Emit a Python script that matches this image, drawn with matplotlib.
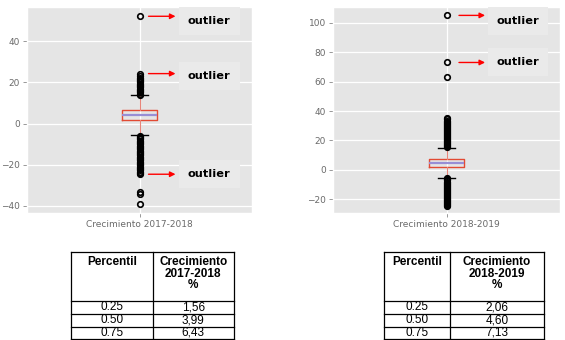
import matplotlib.pyplot as plt

# percentiles and growth values (%)
percentiles = ['0.25', '0.50', '0.75']
growth_1718 = [1.56, 3.99, 6.43]
growth_1819 = [2.06, 4.60, 7.13]

# whisker ends
whiskers_1718 = (-5.8, 13.7)
whiskers_1819 = (-5.2, 14.9)

# outliers
fliers_1718 = [13.9, 14.5, 15.1, 15.7, 16.3, 16.9, 17.5, 18.1, 18.7, 19.3, 19.9,
               20.5, 21.1, 21.7, 22.3, 22.9, 24.2, 52.0,
               -5.9, -6.5, -7.1, -7.7, -8.3, -8.9, -9.5, -10.1, -10.7, -11.3,
               -11.9, -12.5, -13.1, -13.7, -14.3, -14.9, -15.5, -16.1, -16.7,
               -17.3, -17.9, -18.5, -19.1, -19.7, -20.3, -20.9, -21.5, -22.1,
               -22.7, -23.3, -23.9, -24.4, -33.2, -34.3, -38.9]
fliers_1819 = [15.3, 16.0, 16.7, 17.4, 18.1, 18.8, 19.5, 20.2, 20.9, 21.6, 22.3,
               23.0, 23.7, 24.4, 25.1, 25.8, 26.5, 27.2, 27.9, 28.6, 29.3, 30.0,
               30.7, 31.4, 32.1, 32.8, 33.5, 34.6, 35.3, 63.0, 73.0, 105.0,
               -5.8, -6.5, -7.2, -7.9, -8.6, -9.3, -10.0, -10.7, -11.4, -12.1,
               -12.8, -13.5, -14.2, -14.9, -15.6, -16.3, -17.0, -17.7, -18.4,
               -19.1, -19.8, -20.5, -21.2, -21.9, -22.6, -23.3, -24.0, -24.6]

# outliers that get an arrow + label
marked_1718 = [52.0, 24.2, -24.6]
marked_1819 = [105.0, 73.0]

W, H = 565, 340
plt.style.use('ggplot')
plt.rcParams['font.family'] = ['DejaVu Sans']

fig = plt.figure(figsize=(W / 100, H / 100), dpi=100)


def px_rect(x0, y0, x1, y1):
    return [x0 / W, 1 - y1 / H, (x1 - x0) / W, (y1 - y0) / H]


def boxplot(rect, label, q, whis, fliers, ylim, yticks):
    ax = fig.add_axes(rect)
    stats = dict(q1=q[0], med=q[1], q3=q[2], whislo=whis[0], whishi=whis[1],
                 fliers=fliers, label=label)
    ax.bxp([stats], positions=[1], widths=0.155,
           boxprops=dict(color='#E24A33', lw=1.0),
           whiskerprops=dict(color='#E8857A', lw=0.8),
           capprops=dict(color='k', lw=1.0),
           medianprops=dict(color='#988ED5', lw=1.6),
           flierprops=dict(marker='o', mfc='none', mec='k', ms=4.0, mew=1.2))
    ax.set_xlim(0.5, 1.5)
    ax.set_ylim(*ylim)
    ax.set_yticks(yticks)
    ax.grid(True, color='white', lw=0.9)
    ax.tick_params(labelsize=6.5, colors='#888888', labelcolor='#6a6a6a',
                   length=3, width=0.6, pad=2)
    return ax


def mark(ax, y, x0, x1, xt, yt):
    ax.annotate('', xy=(x1, y), xytext=(x0, y),
                arrowprops=dict(arrowstyle='-|>', color='red', lw=1.0,
                                mutation_scale=8, shrinkA=0, shrinkB=0))
    ax.text(xt, yt, 'outlier', ha='center', va='center', fontsize=8.2,
            fontweight='bold', color='black',
            bbox=dict(boxstyle='square,pad=0.8', fc='#eaeaea', ec='none'))


ax1 = boxplot(px_rect(27, 7, 252, 213), 'Crecimiento 2017-2018', growth_1718,
              whiskers_1718, fliers_1718, (-43.4, 56.5), [-40, -20, 0, 20, 40])
text_y1 = [49.7, 23.2, -24.6]
for y, ty in zip(marked_1718, text_y1):
    mark(ax1, y, 1.04, 1.16, 1.31, ty)

ax2 = boxplot(px_rect(333, 7, 560, 213), 'Crecimiento 2018-2019', growth_1819,
              whiskers_1819, fliers_1819, (-29.3, 110.7),
              [-20, 0, 20, 40, 60, 80, 100])
text_y2 = [101.4, 73.3]
for y, ty in zip(marked_1819, text_y2):
    mark(ax2, y, 1.055, 1.17, 1.315, ty)

# percentile tables drawn in pixel space
tab = fig.add_axes([0, 0, 1, 1])
tab.set_xlim(0, W)
tab.set_ylim(H, 0)
tab.axis('off')
tab.patch.set_alpha(0)


def draw_table(x0, xm, x1, period, values):
    rows = [252, 301, 314, 326.5, 339]
    for y in rows:
        tab.plot([x0, x1], [y, y], color='black', lw=0.9)
    for x in (x0, xm, x1):
        tab.plot([x, x], [rows[0], rows[-1]], color='black', lw=0.9)
    font = ['Liberation Sans', 'DejaVu Sans']
    tab.text((x0 + xm) / 2, 256, 'Percentil', ha='center', va='top',
             fontsize=8.5, fontweight='bold', family=font)
    tab.text((xm + x1) / 2, 256, 'Crecimiento\n' + period + '\n%', ha='center',
             va='top', fontsize=8.5, fontweight='bold', family=font,
             linespacing=0.95)
    for i, (p, v) in enumerate(zip(percentiles, values)):
        yc = (rows[i + 1] + rows[i + 2]) / 2
        tab.text((x0 + xm) / 2, yc, p, ha='center', va='center', fontsize=8.5,
                 family=font)
        tab.text((xm + x1) / 2, yc, f'{v:.2f}'.replace('.', ','), ha='center',
                 va='center', fontsize=8.5, family=font)


draw_table(71, 152.5, 234, '2017-2018', growth_1718)
draw_table(384, 449.5, 544, '2018-2019', growth_1819)

fig.savefig('out.png', dpi=100)
